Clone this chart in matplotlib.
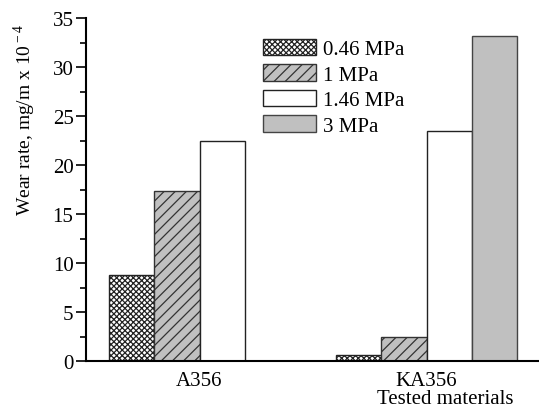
import matplotlib
matplotlib.use("Agg")
import matplotlib.pyplot as plt
from matplotlib.ticker import MultipleLocator
import numpy as np

plt.rcParams['font.family'] = 'Liberation Serif'
plt.rcParams['mathtext.fontset'] = 'custom'
plt.rcParams['mathtext.rm'] = 'Liberation Serif'
plt.rcParams['hatch.linewidth'] = 0.9

# data
materials = ['A356', 'KA356']
pressures = ['0.46 MPa', '1 MPa', '1.46 MPa', '3 MPa']
wear = {
    '0.46 MPa': [8.8, 0.6],
    '1 MPa': [17.3, 2.4],
    '1.46 MPa': [22.4, 23.5],
    '3 MPa': [np.nan, 33.2],
}

faces = ['white', '#c0c0c0', 'white', '#c0c0c0']
hatches = ['xxxxxx', '///', '', '']
edges = ['#222222', '#333333', '#222222', '#444444']

fig = plt.figure(figsize=(5.39, 4.14), dpi=100)
ax = fig.add_axes([86/539, 52/414, 454/539, 343/414])

x = np.arange(len(materials))
w = 0.2
for i, p in enumerate(pressures):
    ax.bar(x + (i - 1.5)*w, wear[p], w, facecolor=faces[i], hatch=hatches[i],
           edgecolor=edges[i], linewidth=1.0, label=p)

ax.set_xlim(-0.5, 1.5)
ax.set_ylim(0, 35)
ax.set_xticks(x)
ax.set_xticklabels(materials, fontsize=15)
ax.tick_params(axis='x', length=0, pad=7)
ax.yaxis.set_major_locator(MultipleLocator(5))
ax.yaxis.set_minor_locator(MultipleLocator(2.5))
ax.tick_params(axis='y', which='major', length=7, width=1.2, labelsize=15, pad=2)
ax.tick_params(axis='y', which='minor', length=4, width=1.2)
ax.spines['top'].set_visible(False)
ax.spines['right'].set_visible(False)
ax.spines['left'].set_linewidth(1.5)
ax.spines['bottom'].set_linewidth(1.5)

ax.set_ylabel(r'Wear rate, mg/m x 10$^{\rm -4}$', fontsize=14)
ax.yaxis.set_label_coords(-0.106, 0.706)
ax.text(445, 414 - 400, 'Tested materials', transform=None, fontsize=15,
        ha='center', va='center')

fig.legend(loc='upper left', bbox_to_anchor=(244/539, 1 - 21/414), frameon=False,
           fontsize=15, handlelength=2.55, handleheight=0.82, labelspacing=0.25,
           handletextpad=0.35, borderpad=0.4)

fig.savefig('out.png', dpi=100)
